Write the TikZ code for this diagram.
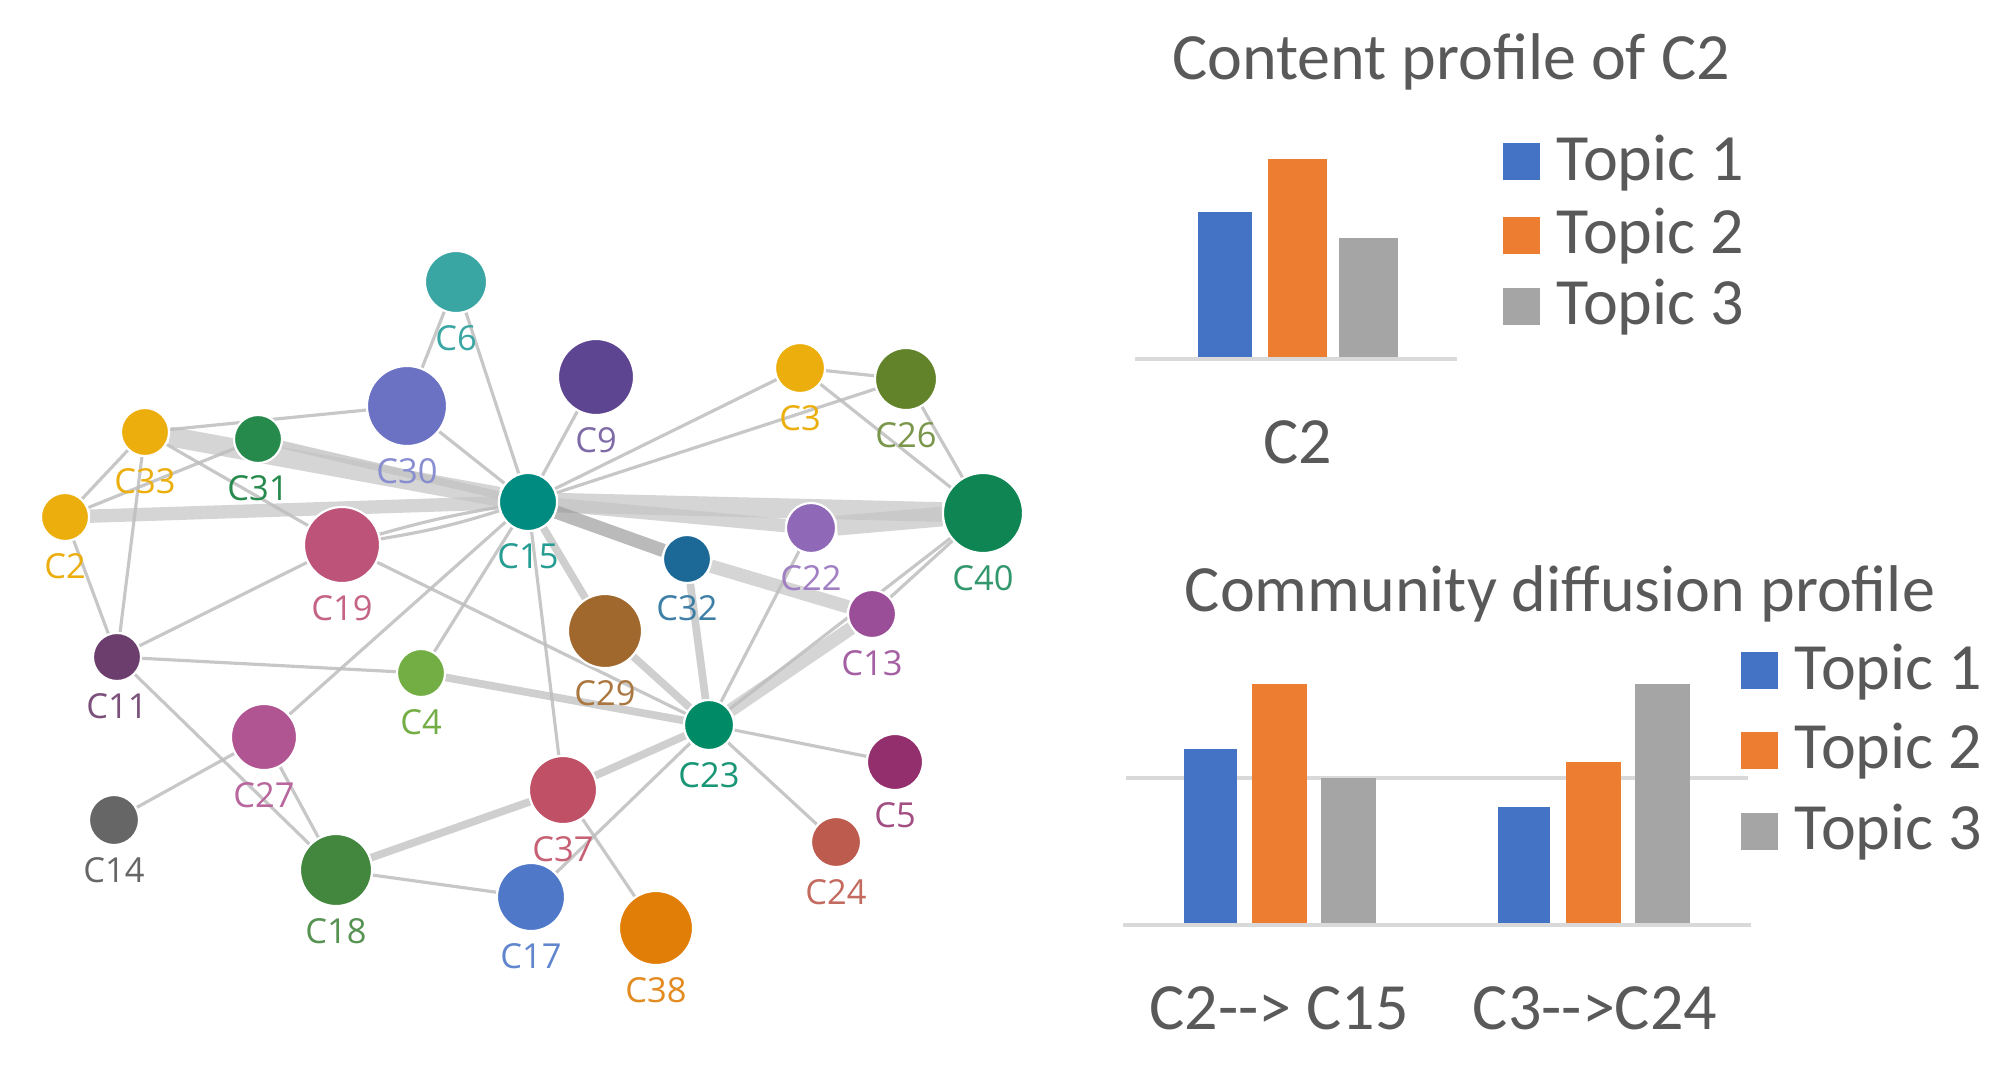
\documentclass[tikz,border=0pt]{standalone}
\usepackage{fontspec}
\usepackage{xcolor}
\usetikzlibrary{backgrounds}
\newfontfamily\chartfont{Carlito}
\newfontfamily\graphfont{Open Sans}
\definecolor{comm-gold}{RGB}{236, 174, 12}
\definecolor{comm-cyan}{RGB}{58, 166, 164}
\definecolor{comm-lavender}{RGB}{107, 114, 196}
\definecolor{comm-indigo}{RGB}{94, 69, 145}
\definecolor{comm-olive}{RGB}{99, 131, 42}
\definecolor{comm-green}{RGB}{38, 138, 76}
\definecolor{comm-teal}{RGB}{0, 139, 128}
\definecolor{comm-rose}{RGB}{190, 83, 122}
\definecolor{comm-emerald}{RGB}{15, 133, 83}
\definecolor{comm-violet}{RGB}{144, 104, 184}
\definecolor{comm-navy}{RGB}{28, 104, 150}
\definecolor{comm-plum}{RGB}{154, 78, 152}
\definecolor{comm-aubergine}{RGB}{108, 62, 110}
\definecolor{comm-lime}{RGB}{115, 174, 69}
\definecolor{comm-brown}{RGB}{160, 104, 44}
\definecolor{comm-jade}{RGB}{0, 138, 102}
\definecolor{comm-pink}{RGB}{176, 85, 146}
\definecolor{comm-wine}{RGB}{147, 47, 108}
\definecolor{comm-grey}{RGB}{102, 102, 102}
\definecolor{comm-red}{RGB}{192, 80, 102}
\definecolor{comm-brick}{RGB}{189, 91, 78}
\definecolor{comm-forest}{RGB}{67, 135, 63}
\definecolor{comm-blue}{RGB}{79, 121, 200}
\definecolor{comm-orange}{RGB}{224, 126, 8}
\definecolor{edge-gray}{RGB}{190, 190, 190}
\definecolor{band-gray}{RGB}{196, 196, 196}
\definecolor{bar-blue}{RGB}{68, 114, 196}
\definecolor{bar-orange}{RGB}{237, 125, 49}
\definecolor{bar-gray}{RGB}{165, 165, 165}
\definecolor{axis-gray}{RGB}{217, 217, 217}
\definecolor{text-gray}{RGB}{89, 89, 89}

\begin{document}
\begin{tikzpicture}[x=0.1mm, y=-0.1mm,
    comm/.style={circle, fill=#1, draw=white, line width=0.6pt, inner sep=0pt},
    every label/.style={font=\graphfont\fontsize{9.8}{11}\selectfont, inner sep=2.5pt},
    label distance=0.5pt,
    link/.style={draw=edge-gray, line width=0.9pt, opacity=0.85},
    midlink/.style={draw=band-gray, line width=2.2pt, opacity=0.8},
    band/.style={draw=band-gray, line width=3.8pt, opacity=0.7},
    heavyband/.style={draw=band-gray, line width=5.6pt, opacity=0.7},
    charttext/.style={font=\chartfont\fontsize{18.8}{22}\selectfont, text=text-gray, inner sep=0pt},
    axisline/.style={draw=axis-gray, line width=1.4pt},
    legbox/.style={minimum size=3.7mm, inner sep=0pt}]
\useasboundingbox (0,0) rectangle (2011,1073);

% communities
\node[comm=comm-cyan, minimum size=6.2mm, label={[text=comm-cyan]below:C6}] (c6) at (456,282) {};
\node[comm=comm-lavender, minimum size=8mm, label={[text=comm-lavender!80!white]below:C30}] (c30) at (407,406) {};
\node[comm=comm-indigo, minimum size=7.6mm, label={[text=comm-indigo!80!white]below:C9}] (c9) at (596,377) {};
\node[comm=comm-gold, minimum size=5mm, label={[text=comm-gold]below:C3}] (c3) at (800,368) {};
\node[comm=comm-olive, minimum size=6.2mm, label={[text=comm-olive!85!white]below:C26}] (c26) at (906,379) {};
\node[comm=comm-gold, minimum size=4.8mm, label={[text=comm-gold]below:C33}] (c33) at (145,432) {};
\node[comm=comm-green, minimum size=4.8mm, label={[text=comm-green]below:C31}] (c31) at (258,439) {};
\node[comm=comm-gold, minimum size=4.8mm, label={[text=comm-gold]below:C2}] (c2) at (65,517) {};
\node[comm=comm-teal, minimum size=5.8mm, label={[text=comm-teal!85!white]below:C15}] (c15) at (528,502) {};
\node[comm=comm-rose, minimum size=7.6mm, label={[text=comm-rose!90!white]below:C19}] (c19) at (342,545) {};
\node[comm=comm-emerald, minimum size=8mm, label={[text=comm-emerald!85!white]below:C40}] (c40) at (983,513) {};
\node[comm=comm-violet, minimum size=5mm, label={[text=comm-violet!85!white]below:C22}] (c22) at (811,528) {};
\node[comm=comm-navy, minimum size=4.8mm, label={[text=comm-navy!85!white]below:C32}] (c32) at (687,559) {};
\node[comm=comm-plum, minimum size=4.8mm, label={[text=comm-plum!90!white]below:C13}] (c13) at (872,614) {};
\node[comm=comm-aubergine, minimum size=4.8mm, label={[text=comm-aubergine!90!white]below:C11}] (c11) at (117,657) {};
\node[comm=comm-lime, minimum size=4.8mm, label={[text=comm-lime]below:C4}] (c4) at (421,673) {};
\node[comm=comm-brown, minimum size=7.4mm, label={[text=comm-brown!90!white]below:C29}] (c29) at (605,631) {};
\node[comm=comm-jade, minimum size=5mm, label={[text=comm-jade!90!white]below:C23}] (c23) at (709,725) {};
\node[comm=comm-pink, minimum size=6.6mm, label={[text=comm-pink!90!white]below:C27}] (c27) at (264,737) {};
\node[comm=comm-wine, minimum size=5.6mm, label={[text=comm-wine!85!white]below:C5}] (c5) at (895,762) {};
\node[comm=comm-grey, minimum size=5mm, label={[text=comm-grey]below:C14}] (c14) at (114,820) {};
\node[comm=comm-red, minimum size=6.8mm, label={[text=comm-red!90!white]below:C37}] (c37) at (563,790) {};
\node[comm=comm-brick, minimum size=5mm, label={[text=comm-brick!90!white]below:C24}] (c24) at (836,842) {};
\node[comm=comm-forest, minimum size=7.2mm, label={[text=comm-forest!90!white]below:C18}] (c18) at (336,870) {};
\node[comm=comm-blue, minimum size=6.8mm, label={[text=comm-blue!90!white]below:C17}] (c17) at (531,897) {};
\node[comm=comm-orange, minimum size=7.4mm, label={[text=comm-orange!90!white]below:C38}] (c38) at (656,928) {};

% links between communities
\begin{scope}[on background layer]
\fill[white] (0,0) rectangle (2011,1073);
\draw[heavyband] (c33) -- (c15);
\draw[heavyband] (c15) -- (c40);
\draw[heavyband] (c22) -- (c40);
\draw[band] (c2) -- (c15);
\draw[band] (c15) -- (c22);
\draw[band, draw=band-gray!80!black] (c15) -- (c32);
\draw[band] (c32) -- (c13);
\draw[band] (c13) -- (c23);
\draw[midlink] (c31) -- (c15);
\draw[midlink] (c15) -- (c29);
\draw[midlink] (c29) -- (c23);
\draw[midlink] (c4) -- (c23);
\draw[midlink] (c32) -- (c23);
\draw[midlink] (c18) -- (c37);
\draw[midlink] (c37) -- (c23);
\draw[link] (c6) -- (c30);
\draw[link] (c6) -- (c15);
\draw[link] (c30) -- (c15);
\draw[link] (c9) -- (c15);
\draw[link] (c15) -- (c3);
\draw[link] (c15) -- (c26);
\draw[link] (c3) -- (c26);
\draw[link] (c3) -- (c40);
\draw[link] (c26) -- (c40);
\draw[link] (c33) -- (c30);
\draw[link] (c33) -- (c19);
\draw[link] (c2) -- (c33);
\draw[link] (c2) -- (c31);
\draw[link] (c2) -- (c11);
\draw[link] (c33) -- (c11);
\draw[link] (c11) -- (c19);
\draw[link] (c11) -- (c4);
\draw[link] (c11) -- (c18);
\draw[link] (c14) -- (c27);
\draw[link] (c27) -- (c18);
\draw[link] (c27) -- (c15);
\draw[link] (c18) -- (c17);
\draw[link] (c4) -- (c15);
\draw[link] (c15) -- (c37);
\draw[link] (c19) to[bend left=3] (c15);
\draw[link] (c19) to[bend right=4] (c15);
\draw[link] (c19) -- (c23);
\draw[link] (c22) -- (c23);
\draw[link] (c40) -- (c13);
\draw[link] (c40) -- (c23);
\draw[link] (c23) -- (c5);
\draw[link] (c23) -- (c24);
\draw[link] (c23) -- (c17);
\draw[link] (c37) -- (c38);
\end{scope}

% content profile of C2
\node[charttext, anchor=base] (content-title) at (1451,80) {Content profile of C2};
\fill[bar-blue] (1198,358) rectangle (1252,212);
\fill[bar-orange] (1268,358) rectangle (1327,159);
\fill[bar-gray] (1339,358) rectangle (1398,238);
\draw[axisline] (1135,359) -- (1457,359);
\node[charttext, anchor=base] (content-cat) at (1298,463) {C2};
\node[legbox, fill=bar-blue] (content-key1) at (1521,162) {};
\node[legbox, fill=bar-orange] (content-key2) at (1521,235) {};
\node[legbox, fill=bar-gray] (content-key3) at (1521,306) {};
\node[charttext, anchor=base west] (content-topic1) at (1556,180) {Topic 1};
\node[charttext, anchor=base west] (content-topic2) at (1556,253) {Topic 2};
\node[charttext, anchor=base west] (content-topic3) at (1556,324) {Topic 3};

% community diffusion profile
\node[charttext, anchor=base] (diffusion-title) at (1560,611) {Community diffusion profile};
\draw[axisline] (1126,778) -- (1748,778);
\fill[bar-blue] (1184,924) rectangle (1237,749);
\fill[bar-orange] (1252,924) rectangle (1307,684);
\fill[bar-gray] (1321,924) rectangle (1376,778);
\fill[bar-blue] (1498,924) rectangle (1550,807);
\fill[bar-orange] (1566,924) rectangle (1621,762);
\fill[bar-gray] (1635,924) rectangle (1690,684);
\draw[axisline] (1123,925) -- (1751,925);
\node[charttext, anchor=base] (diffusion-cat1) at (1279,1029) {C2-{}-> C15};
\node[charttext, anchor=base] (diffusion-cat2) at (1595,1029) {C3-{}->C24};
\node[legbox, fill=bar-blue] (diffusion-key1) at (1759,670) {};
\node[legbox, fill=bar-orange] (diffusion-key2) at (1759,750) {};
\node[legbox, fill=bar-gray] (diffusion-key3) at (1759,831) {};
\node[charttext, anchor=base west] (diffusion-topic1) at (1794,689) {Topic 1};
\node[charttext, anchor=base west] (diffusion-topic2) at (1794,768) {Topic 2};
\node[charttext, anchor=base west] (diffusion-topic3) at (1794,849) {Topic 3};
\end{tikzpicture}
\end{document}
